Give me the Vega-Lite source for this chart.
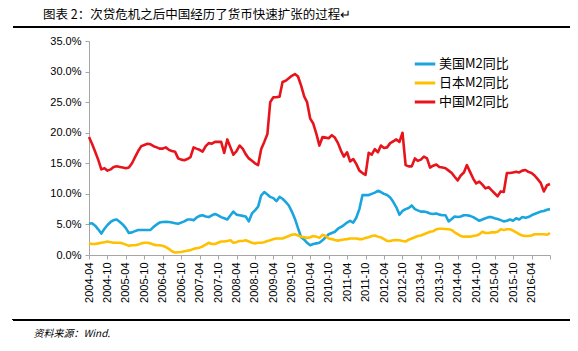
{
  "$schema": "https://vega.github.io/schema/vega-lite/v6.json",
  "width": 461,
  "height": 214,
  "autosize": "none",
  "padding": {"left": 89, "top": 41, "right": 28, "bottom": 96},
  "background": "white",
  "title": {"text": "图表 2：次贷危机之后中国经历了货币快速扩张的过程↵", "anchor": "start", "frame": "group", "dx": -46, "offset": 5, "fontSize": 12.5, "font": "Noto Sans CJK SC", "fontWeight": "normal", "color": "#000000"},
  "config": {"view": {"stroke": null}, "font": "Liberation Sans"},
  "resolve": {"scale": {"x": "independent", "y": "independent"}, "axis": {"x": "independent", "y": "independent"}},
  "data": {
    "format": {"parse": {"d": "utc:'%Y-%m'"}},
    "values": [
      {"d":"2004-04","cn":19.3,"us":5.1,"jp":1.9},
      {"d":"2004-05","cn":18.2,"us":5.2,"jp":1.8},
      {"d":"2004-06","cn":16.9,"us":4.8,"jp":1.8},
      {"d":"2004-07","cn":15.6,"us":4.2,"jp":1.9},
      {"d":"2004-08","cn":14.0,"us":3.5,"jp":2.0},
      {"d":"2004-09","cn":14.2,"us":4.3,"jp":2.1},
      {"d":"2004-10","cn":13.8,"us":4.9,"jp":2.2},
      {"d":"2004-11","cn":14.0,"us":5.4,"jp":2.1},
      {"d":"2004-12","cn":14.4,"us":5.7,"jp":2.0},
      {"d":"2005-01","cn":14.5,"us":5.8,"jp":2.0},
      {"d":"2005-02","cn":14.4,"us":5.4,"jp":2.0},
      {"d":"2005-03","cn":14.3,"us":5.0,"jp":1.9},
      {"d":"2005-04","cn":14.2,"us":4.4,"jp":1.7},
      {"d":"2005-05","cn":14.3,"us":3.6,"jp":1.5},
      {"d":"2005-06","cn":15.0,"us":3.7,"jp":1.6},
      {"d":"2005-07","cn":16.0,"us":3.9,"jp":1.6},
      {"d":"2005-08","cn":17.0,"us":4.1,"jp":1.7},
      {"d":"2005-09","cn":17.8,"us":4.1,"jp":1.9},
      {"d":"2005-10","cn":18.0,"us":4.1,"jp":2.0},
      {"d":"2005-11","cn":18.2,"us":4.1,"jp":2.0},
      {"d":"2005-12","cn":18.1,"us":4.1,"jp":1.9},
      {"d":"2006-01","cn":17.8,"us":4.6,"jp":1.7},
      {"d":"2006-02","cn":17.6,"us":5.0,"jp":1.6},
      {"d":"2006-03","cn":17.4,"us":5.3,"jp":1.6},
      {"d":"2006-04","cn":17.4,"us":5.4,"jp":1.5},
      {"d":"2006-05","cn":17.6,"us":5.45,"jp":1.3},
      {"d":"2006-06","cn":17.2,"us":5.4,"jp":1.0},
      {"d":"2006-07","cn":17.0,"us":5.3,"jp":0.6},
      {"d":"2006-08","cn":16.9,"us":5.2,"jp":0.4},
      {"d":"2006-09","cn":15.8,"us":5.1,"jp":0.45},
      {"d":"2006-10","cn":15.6,"us":5.3,"jp":0.5},
      {"d":"2006-11","cn":15.5,"us":5.5,"jp":0.6},
      {"d":"2006-12","cn":15.7,"us":5.8,"jp":0.7},
      {"d":"2007-01","cn":16.0,"us":5.8,"jp":0.8},
      {"d":"2007-02","cn":17.6,"us":5.7,"jp":1.0},
      {"d":"2007-03","cn":17.4,"us":6.1,"jp":1.1},
      {"d":"2007-04","cn":17.2,"us":6.4,"jp":1.2},
      {"d":"2007-05","cn":16.9,"us":6.5,"jp":1.4},
      {"d":"2007-06","cn":17.8,"us":6.3,"jp":1.7},
      {"d":"2007-07","cn":18.3,"us":6.2,"jp":2.0},
      {"d":"2007-08","cn":18.2,"us":6.5,"jp":1.8},
      {"d":"2007-09","cn":18.5,"us":6.7,"jp":1.8},
      {"d":"2007-10","cn":18.5,"us":6.5,"jp":2.0},
      {"d":"2007-11","cn":18.5,"us":6.2,"jp":2.2},
      {"d":"2007-12","cn":16.7,"us":6.0,"jp":2.2},
      {"d":"2008-01","cn":18.9,"us":5.8,"jp":2.3},
      {"d":"2008-02","cn":17.6,"us":6.5,"jp":2.4},
      {"d":"2008-03","cn":16.4,"us":7.1,"jp":2.0},
      {"d":"2008-04","cn":17.0,"us":6.6,"jp":2.1},
      {"d":"2008-05","cn":17.9,"us":6.5,"jp":2.3},
      {"d":"2008-06","cn":17.4,"us":6.4,"jp":2.3},
      {"d":"2008-07","cn":16.5,"us":6.3,"jp":2.4},
      {"d":"2008-08","cn":15.8,"us":5.5,"jp":2.2},
      {"d":"2008-09","cn":15.4,"us":6.8,"jp":2.0},
      {"d":"2008-10","cn":15.0,"us":7.3,"jp":1.9},
      {"d":"2008-11","cn":14.7,"us":7.9,"jp":2.0},
      {"d":"2008-12","cn":17.3,"us":9.7,"jp":2.0},
      {"d":"2009-01","cn":18.5,"us":10.3,"jp":2.1},
      {"d":"2009-02","cn":19.8,"us":9.9,"jp":2.3},
      {"d":"2009-03","cn":25.0,"us":9.5,"jp":2.4},
      {"d":"2009-04","cn":25.8,"us":9.3,"jp":2.6},
      {"d":"2009-05","cn":25.8,"us":8.8,"jp":2.7},
      {"d":"2009-06","cn":25.9,"us":9.5,"jp":2.7},
      {"d":"2009-07","cn":28.3,"us":9.2,"jp":2.7},
      {"d":"2009-08","cn":28.5,"us":8.7,"jp":2.9},
      {"d":"2009-09","cn":28.9,"us":8.1,"jp":3.1},
      {"d":"2009-10","cn":29.3,"us":7.1,"jp":3.3},
      {"d":"2009-11","cn":29.6,"us":5.9,"jp":3.4},
      {"d":"2009-12","cn":29.2,"us":4.4,"jp":3.2},
      {"d":"2010-01","cn":27.7,"us":2.9,"jp":3.0},
      {"d":"2010-02","cn":25.9,"us":2.5,"jp":2.9},
      {"d":"2010-03","cn":25.0,"us":2.0,"jp":2.8},
      {"d":"2010-04","cn":22.3,"us":1.6,"jp":2.9},
      {"d":"2010-05","cn":21.5,"us":1.8,"jp":3.1},
      {"d":"2010-06","cn":19.8,"us":1.9,"jp":3.0},
      {"d":"2010-07","cn":17.9,"us":2.0,"jp":2.8},
      {"d":"2010-08","cn":19.3,"us":2.4,"jp":3.3},
      {"d":"2010-09","cn":19.2,"us":2.9,"jp":3.1},
      {"d":"2010-10","cn":19.1,"us":3.4,"jp":2.7},
      {"d":"2010-11","cn":19.6,"us":3.6,"jp":2.6},
      {"d":"2010-12","cn":19.2,"us":3.8,"jp":2.45},
      {"d":"2011-01","cn":18.3,"us":4.3,"jp":2.35},
      {"d":"2011-02","cn":17.0,"us":4.6,"jp":2.45},
      {"d":"2011-03","cn":16.1,"us":4.9,"jp":2.55},
      {"d":"2011-04","cn":16.8,"us":5.3,"jp":2.6},
      {"d":"2011-05","cn":15.3,"us":5.6,"jp":2.7},
      {"d":"2011-06","cn":15.7,"us":5.3,"jp":2.7},
      {"d":"2011-07","cn":14.9,"us":6.1,"jp":2.7},
      {"d":"2011-08","cn":13.8,"us":7.5,"jp":2.6},
      {"d":"2011-09","cn":13.4,"us":9.8,"jp":2.6},
      {"d":"2011-10","cn":13.1,"us":9.8,"jp":2.8},
      {"d":"2011-11","cn":16.7,"us":9.8,"jp":2.9},
      {"d":"2011-12","cn":16.4,"us":10.0,"jp":3.1},
      {"d":"2012-01","cn":17.3,"us":10.2,"jp":3.2},
      {"d":"2012-02","cn":16.8,"us":10.5,"jp":3.0},
      {"d":"2012-03","cn":17.9,"us":10.3,"jp":2.9},
      {"d":"2012-04","cn":17.5,"us":10.0,"jp":2.6},
      {"d":"2012-05","cn":17.6,"us":9.8,"jp":2.3},
      {"d":"2012-06","cn":18.3,"us":9.4,"jp":2.3},
      {"d":"2012-07","cn":18.6,"us":8.7,"jp":2.4},
      {"d":"2012-08","cn":18.9,"us":7.8,"jp":2.45},
      {"d":"2012-09","cn":18.5,"us":6.6,"jp":2.4},
      {"d":"2012-10","cn":20.0,"us":7.2,"jp":2.3},
      {"d":"2012-11","cn":14.7,"us":7.5,"jp":2.2},
      {"d":"2012-12","cn":14.5,"us":7.7,"jp":2.5},
      {"d":"2013-01","cn":14.5,"us":8.1,"jp":2.7},
      {"d":"2013-02","cn":15.8,"us":7.5,"jp":2.9},
      {"d":"2013-03","cn":15.4,"us":7.3,"jp":3.1},
      {"d":"2013-04","cn":15.6,"us":7.1,"jp":3.2},
      {"d":"2013-05","cn":16.1,"us":7.1,"jp":3.4},
      {"d":"2013-06","cn":15.8,"us":7.0,"jp":3.6},
      {"d":"2013-07","cn":14.3,"us":6.8,"jp":3.8},
      {"d":"2013-08","cn":14.6,"us":6.7,"jp":3.9},
      {"d":"2013-09","cn":14.8,"us":6.8,"jp":4.2},
      {"d":"2013-10","cn":14.4,"us":6.6,"jp":4.3},
      {"d":"2013-11","cn":14.3,"us":6.5,"jp":4.3},
      {"d":"2013-12","cn":14.2,"us":6.5,"jp":4.25},
      {"d":"2014-01","cn":13.8,"us":5.5,"jp":4.2},
      {"d":"2014-02","cn":13.4,"us":5.9,"jp":4.1},
      {"d":"2014-03","cn":12.8,"us":6.3,"jp":3.7},
      {"d":"2014-04","cn":12.2,"us":6.2,"jp":3.4},
      {"d":"2014-05","cn":13.0,"us":6.3,"jp":3.1},
      {"d":"2014-06","cn":13.5,"us":6.5,"jp":3.0},
      {"d":"2014-07","cn":14.7,"us":6.5,"jp":3.0},
      {"d":"2014-08","cn":13.6,"us":6.4,"jp":3.0},
      {"d":"2014-09","cn":12.5,"us":6.2,"jp":3.1},
      {"d":"2014-10","cn":11.7,"us":5.9,"jp":3.2},
      {"d":"2014-11","cn":12.0,"us":5.6,"jp":3.4},
      {"d":"2014-12","cn":11.5,"us":5.8,"jp":3.8},
      {"d":"2015-01","cn":10.9,"us":6.0,"jp":3.6},
      {"d":"2015-02","cn":11.1,"us":6.2,"jp":3.6},
      {"d":"2015-03","cn":10.6,"us":6.2,"jp":3.7},
      {"d":"2015-04","cn":10.1,"us":6.0,"jp":3.7},
      {"d":"2015-05","cn":9.6,"us":5.9,"jp":3.8},
      {"d":"2015-06","cn":10.4,"us":5.7,"jp":4.2},
      {"d":"2015-07","cn":10.3,"us":5.5,"jp":4.1},
      {"d":"2015-08","cn":13.4,"us":5.6,"jp":4.2},
      {"d":"2015-09","cn":13.4,"us":5.8,"jp":4.2},
      {"d":"2015-10","cn":13.5,"us":5.6,"jp":4.0},
      {"d":"2015-11","cn":13.6,"us":6.0,"jp":3.7},
      {"d":"2015-12","cn":13.5,"us":5.8,"jp":3.4},
      {"d":"2016-01","cn":13.8,"us":6.2,"jp":3.2},
      {"d":"2016-02","cn":13.9,"us":6.1,"jp":3.1},
      {"d":"2016-03","cn":13.6,"us":6.2,"jp":3.1},
      {"d":"2016-04","cn":13.4,"us":6.5,"jp":3.2},
      {"d":"2016-05","cn":13.0,"us":6.7,"jp":3.4},
      {"d":"2016-06","cn":12.4,"us":6.9,"jp":3.4},
      {"d":"2016-07","cn":11.8,"us":7.1,"jp":3.4},
      {"d":"2016-08","cn":10.4,"us":7.2,"jp":3.4},
      {"d":"2016-09","cn":11.4,"us":7.4,"jp":3.3},
      {"d":"2016-10","cn":11.6,"us":7.5,"jp":3.6}
    ]
  },
  "layer": [
    {
      "transform": [{"fold": ["us", "jp", "cn"], "as": ["series", "value"]}],
      "mark": {"type": "line", "strokeWidth": 2.6, "strokeJoin": "round"},
      "encoding": {
        "x": {
          "field": "d", "type": "temporal",
          "scale": {"type": "utc", "domain": [{"year": 2004, "month": 4, "date": 1, "utc": true}, {"year": 2016, "month": 10, "date": 1, "utc": true}]},
          "axis": {
            "values": [
              {"year": 2004, "month": 4, "date": 1, "utc": true}, {"year": 2004, "month": 10, "date": 1, "utc": true},
              {"year": 2005, "month": 4, "date": 1, "utc": true}, {"year": 2005, "month": 10, "date": 1, "utc": true},
              {"year": 2006, "month": 4, "date": 1, "utc": true}, {"year": 2006, "month": 10, "date": 1, "utc": true},
              {"year": 2007, "month": 4, "date": 1, "utc": true}, {"year": 2007, "month": 10, "date": 1, "utc": true},
              {"year": 2008, "month": 4, "date": 1, "utc": true}, {"year": 2008, "month": 10, "date": 1, "utc": true},
              {"year": 2009, "month": 4, "date": 1, "utc": true}, {"year": 2009, "month": 10, "date": 1, "utc": true},
              {"year": 2010, "month": 4, "date": 1, "utc": true}, {"year": 2010, "month": 10, "date": 1, "utc": true},
              {"year": 2011, "month": 4, "date": 1, "utc": true}, {"year": 2011, "month": 10, "date": 1, "utc": true},
              {"year": 2012, "month": 4, "date": 1, "utc": true}, {"year": 2012, "month": 10, "date": 1, "utc": true},
              {"year": 2013, "month": 4, "date": 1, "utc": true}, {"year": 2013, "month": 10, "date": 1, "utc": true},
              {"year": 2014, "month": 4, "date": 1, "utc": true}, {"year": 2014, "month": 10, "date": 1, "utc": true},
              {"year": 2015, "month": 4, "date": 1, "utc": true}, {"year": 2015, "month": 10, "date": 1, "utc": true},
              {"year": 2016, "month": 4, "date": 1, "utc": true}, {"year": 2016, "month": 10, "date": 1, "utc": true}
            ],
            "labelExpr": "utcyear(datum.value) == 2016 && utcmonth(datum.value) == 9 ? '' : utcFormat(datum.value, '%Y-%m')",
            "labelAngle": -90,
            "labelFontSize": 11,
            "labelColor": "#000000",
            "labelPadding": 3,
            "labelFlush": false,
            "labelOverlap": false,
            "tickSize": 4,
            "tickColor": "#a6a6a6",
            "domainColor": "#a6a6a6",
            "grid": false,
            "title": "资料来源：Wind.",
            "titleX": -56,
            "titleY": 78,
            "titleAlign": "left",
            "titleBaseline": "middle",
            "titleAnchor": null,
            "titleFontSize": 10,
            "titleFontStyle": "italic",
            "titleFontWeight": "normal",
            "titleFont": "Noto Sans CJK SC",
            "titleColor": "#000000"
          }
        },
        "y": {
          "field": "value", "type": "quantitative",
          "scale": {"domain": [0, 35]},
          "axis": {
            "values": [0, 5, 10, 15, 20, 25, 30, 35],
            "labelExpr": "format(datum.value, '.1f') + '%'",
            "labelFontSize": 11,
            "labelColor": "#000000",
            "labelPadding": 4,
            "tickSize": 4,
            "tickColor": "#a6a6a6",
            "domainColor": "#a6a6a6",
            "grid": false,
            "title": null
          }
        },
        "color": {
          "field": "series", "type": "nominal",
          "scale": {"domain": ["us", "jp", "cn"], "range": ["#1aa5df", "#ffc000", "#e8141c"]},
          "legend": {
            "orient": "none",
            "legendX": 324,
            "legendY": 11,
            "title": null,
            "symbolType": "stroke",
            "symbolSize": 420,
            "symbolStrokeWidth": 3,
            "labelFont": "Noto Sans CJK SC",
            "labelFontSize": 13,
            "labelColor": "#000000",
            "labelOffset": 2,
            "rowPadding": 0,
            "labelExpr": "datum.label == 'us' ? '美国M2同比' : datum.label == 'jp' ? '日本M2同比' : '中国M2同比'"
          }
        }
      }
    },
    {
      "mark": {"type": "rule", "color": "#000000", "strokeWidth": 1.5},
      "encoding": {
        "x": {"datum": {"year": 2002, "month": 3, "date": 10, "utc": true}, "type": "temporal", "axis": null,
              "scale": {"type": "utc", "domain": [{"year": 2004, "month": 4, "date": 1, "utc": true}, {"year": 2016, "month": 10, "date": 1, "utc": true}]}},
        "x2": {"datum": {"year": 2017, "month": 4, "date": 15, "utc": true}},
        "y": {"datum": 37.3, "type": "quantitative", "axis": null, "scale": {"domain": [0, 35]}}
      }
    },
    {
      "mark": {"type": "rule", "color": "#000000", "strokeWidth": 1.5},
      "encoding": {
        "x": {"datum": {"year": 2002, "month": 3, "date": 10, "utc": true}, "type": "temporal", "axis": null,
              "scale": {"type": "utc", "domain": [{"year": 2004, "month": 4, "date": 1, "utc": true}, {"year": 2016, "month": 10, "date": 1, "utc": true}]}},
        "x2": {"datum": {"year": 2017, "month": 4, "date": 15, "utc": true}},
        "y": {"datum": -10.6, "type": "quantitative", "axis": null, "scale": {"domain": [0, 35]}}
      }
    }
  ]
}
